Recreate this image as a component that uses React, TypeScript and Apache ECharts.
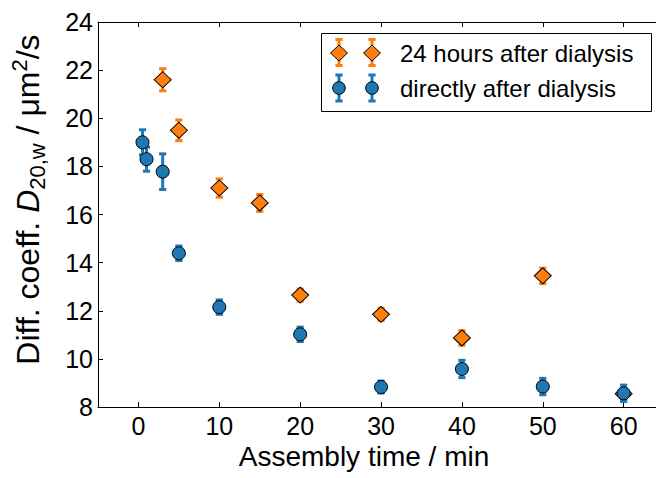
import React, { useEffect, useRef } from 'react';
import * as echarts from 'echarts';

// 24 hours after dialysis (orange diamonds)
const timeLater = [3, 5, 10, 15, 20, 30, 40, 50, 60];
const coeffLater = [21.6, 19.5, 17.1, 16.48, 12.65, 11.85, 10.87, 13.45, 8.55];
const errLater = [0.46, 0.43, 0.38, 0.35, 0.25, 0.25, 0.3, 0.32, 0.2];

// directly after dialysis (blue circles)
const timeDirect = [0.5, 1, 3, 5, 10, 20, 30, 40, 50, 60];
const coeffDirect = [19.0, 18.3, 17.78, 14.39, 12.15, 11.02, 8.83, 9.58, 8.85, 8.57];
const errDirect = [0.52, 0.5, 0.74, 0.3, 0.3, 0.3, 0.25, 0.36, 0.34, 0.34];

const xTicks = [0, 10, 20, 30, 40, 50, 60];

const labelLater = '24 hours after dialysis';
const labelDirect = 'directly after dialysis';

const ORANGE = '#ff7f0e';
const BLUE = '#1f77b4';
const FONT = 'Liberation Sans, Arial, Helvetica, sans-serif';

function errorBars(name: string, xs: number[], ys: number[], es: number[], color: string, z: number) {
  return {
    type: 'custom',
    name,
    z,
    silent: true,
    data: xs.map((x, i) => [x, ys[i], es[i]]),
    encode: { x: 0, y: 1 },
    renderItem: (_params: any, api: any) => {
      const x = api.value(0);
      const y = api.value(1);
      const e = api.value(2);
      const top = api.coord([x, y + e]);
      const bot = api.coord([x, y - e]);
      const hw = 3.6;
      const st = { stroke: color, lineWidth: 3 };
      return {
        type: 'group',
        children: [
          { type: 'line', shape: { x1: top[0], y1: top[1], x2: bot[0], y2: bot[1] }, style: st },
          { type: 'line', shape: { x1: top[0] - hw, y1: top[1], x2: top[0] + hw, y2: top[1] }, style: st },
          { type: 'line', shape: { x1: bot[0] - hw, y1: bot[1], x2: bot[0] + hw, y2: bot[1] }, style: st },
        ],
      };
    },
  };
}

function legendErr(x: number, yTop: number, yBot: number, color: string) {
  const st = { stroke: color, lineWidth: 3 };
  return [
    { type: 'line', shape: { x1: x, y1: yTop, x2: x, y2: yBot }, style: st, z: 10 },
    { type: 'line', shape: { x1: x - 3.6, y1: yTop, x2: x + 3.6, y2: yTop }, style: st, z: 10 },
    { type: 'line', shape: { x1: x - 3.6, y1: yBot, x2: x + 3.6, y2: yBot }, style: st, z: 10 },
  ];
}

function legendDiamond(x: number, y: number) {
  return {
    type: 'polygon',
    shape: { points: [[x, y - 8], [x + 8.5, y], [x, y + 8], [x - 8.5, y]] },
    style: { fill: ORANGE, stroke: '#000', lineWidth: 1 },
    z: 11,
  };
}

function legendCircle(x: number, y: number) {
  return {
    type: 'circle',
    shape: { cx: x, cy: y, r: 6.3 },
    style: { fill: BLUE, stroke: '#000', lineWidth: 1 },
    z: 11,
  };
}

export default function App() {
  const ref = useRef<HTMLDivElement>(null);
  useEffect(() => {
    const chart = echarts.init(ref.current!, null, { renderer: 'svg' });
    const axisLineStyle = { color: '#000', width: 1 };
    const option: any = {
      animation: false,
      backgroundColor: '#fff',
      grid: { left: 97, top: 22, right: 0, bottom: 71, containLabel: false },
      xAxis: [
        {
          type: 'value',
          min: -5,
          max: 64,
          position: 'bottom',
          axisLine: { show: true, onZero: false, lineStyle: axisLineStyle },
          axisTick: { show: true, inside: true, length: 5, customValues: xTicks, lineStyle: axisLineStyle },
          axisLabel: { show: true, customValues: xTicks, margin: 6, fontFamily: FONT, fontSize: 25, color: '#000' },
          splitLine: { show: false },
          name: 'Assembly time / min',
          nameLocation: 'middle',
          nameGap: 35,
          nameTextStyle: { fontFamily: FONT, fontSize: 28, color: '#000', lineHeight: 28, padding: [0, 26, 0, 0] },
        },
        {
          type: 'value',
          min: -5,
          max: 64,
          position: 'top',
          axisLine: { show: true, onZero: false, lineStyle: axisLineStyle },
          axisTick: { show: true, inside: true, length: 5, customValues: xTicks, lineStyle: axisLineStyle },
          axisLabel: { show: false },
          splitLine: { show: false },
        },
      ],
      yAxis: [
        {
          type: 'value',
          min: 8,
          max: 24,
          interval: 2,
          position: 'left',
          axisLine: { show: true, onZero: false, lineStyle: axisLineStyle },
          axisTick: { show: true, inside: true, length: 5, lineStyle: axisLineStyle },
          axisLabel: { show: true, margin: 5, fontFamily: FONT, fontSize: 25, color: '#000' },
          splitLine: { show: false },
          name: '{t|Diff. coeff. }{i|D}{sub|20,w}{t| / μm}{sup|2}{t|/s}',
          nameLocation: 'middle',
          nameGap: 50,
          nameTextStyle: {
            fontFamily: FONT,
            fontSize: 32,
            color: '#000',
            padding: [0, 0, 0, 30],
            rich: {
              t: { fontFamily: FONT, fontSize: 32, color: '#000', lineHeight: 40 },
              i: { fontFamily: FONT, fontSize: 32, fontStyle: 'italic', color: '#000', lineHeight: 40 },
              sub: { fontFamily: FONT, fontSize: 22, color: '#000', verticalAlign: 'bottom', lineHeight: 27 },
              sup: { fontFamily: FONT, fontSize: 22, color: '#000', verticalAlign: 'top', lineHeight: 22 },
            },
          },
        },
      ],
      series: [
        errorBars('err-later', timeLater, coeffLater, errLater, ORANGE, 2),
        {
          type: 'scatter',
          name: labelLater,
          z: 3,
          data: timeLater.map((x, i) => [x, coeffLater[i]]),
          symbol: 'diamond',
          symbolSize: [17, 16],
          itemStyle: { color: ORANGE, borderColor: '#000', borderWidth: 1, opacity: 1 },
        },
        errorBars('err-direct', timeDirect, coeffDirect, errDirect, BLUE, 4),
        {
          type: 'scatter',
          name: labelDirect,
          z: 5,
          data: timeDirect.map((x, i) => [x, coeffDirect[i]]),
          symbol: 'circle',
          symbolSize: 13,
          itemStyle: { color: BLUE, borderColor: '#000', borderWidth: 1, opacity: 1 },
        },
      ],
      graphic: [
        {
          type: 'rect',
          shape: { x: 321.5, y: 33.5, width: 330, height: 78 },
          style: { fill: '#fff', stroke: '#000', lineWidth: 1 },
          z: 9,
        },
        ...legendErr(339, 39.5, 65.5, ORANGE),
        ...legendErr(372, 39.5, 65.5, ORANGE),
        legendDiamond(339, 53),
        legendDiamond(372, 53),
        ...legendErr(339, 75, 101, BLUE),
        ...legendErr(372, 75, 101, BLUE),
        legendCircle(339, 88),
        legendCircle(372, 88),
        {
          type: 'text',
          x: 400,
          y: 53,
          z: 11,
          style: { text: labelLater, fontFamily: FONT, fontSize: 24, fill: '#000', verticalAlign: 'middle', align: 'left' },
        },
        {
          type: 'text',
          x: 400,
          y: 88,
          z: 11,
          style: { text: labelDirect, fontFamily: FONT, fontSize: 24, fill: '#000', verticalAlign: 'middle', align: 'left' },
        },
      ],
    };
    chart.setOption(option);
    return () => chart.dispose();
  }, []);
  return (
    <div
      ref={ref}
      style={{ position: 'fixed', left: 0, top: 0, width: 656, height: 478, background: '#fff' }}
    />
  );
}
